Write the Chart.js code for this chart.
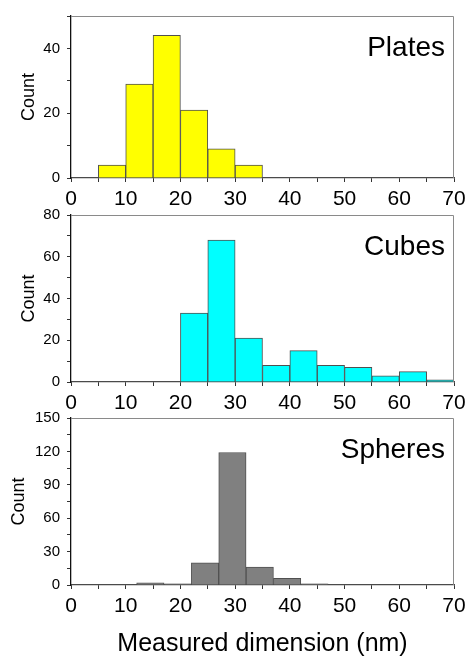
<!DOCTYPE html>
<html>
<head>
<meta charset="utf-8">
<script src="https://cdn.jsdelivr.net/npm/chart.js@4.4.1/dist/chart.umd.min.js"></script>
<style>
    html, body { margin: 0; padding: 0; background: #fff; }
    #wrap { position: relative; width: 472px; height: 657px; background: #fff; }
    #wrap canvas { position: absolute; left: 0; top: 0; }
</style>
</head>
<body>
<div id="wrap">
    <canvas id="plates" width="472" height="657"></canvas>
    <canvas id="cubes" width="472" height="657"></canvas>
    <canvas id="spheres" width="472" height="657"></canvas>
</div>
<script>
// histogram data, bins 5 nm wide
const binWidth = 5;
const xTicks = [0, 10, 20, 30, 40, 50, 60, 70];

const platesBinStart = [5, 10, 15, 20, 25, 30];
const platesCount = [4, 29, 44, 21, 9, 4];
const platesYTicks = [0, 20, 40];
const platesYMax = 50;

const cubesBinStart = [20, 25, 30, 35, 40, 45, 50, 55, 60, 65];
const cubesCount = [33, 68, 21, 8, 15, 8, 7, 3, 5, 1];
const cubesYTicks = [0, 20, 40, 60, 80];
const cubesYMax = 80;

const spheresBinStart = [12, 17, 22, 27, 32, 37, 42];
const spheresCount = [2, 1, 20, 119, 16, 6, 1];
const spheresYTicks = [0, 30, 60, 90, 120, 150];
const spheresYMax = 150;

const FONT = "'Liberation Sans', Arial, sans-serif";
Chart.defaults.font.family = FONT;
Chart.defaults.color = '#000';

// gray box on top/right + the panel name in the corner
const framePlugin = {
    id: 'frame',
    afterDatasetsDraw(chart, args, opts) {
        const { ctx, chartArea: a } = chart;
        ctx.save();
        ctx.strokeStyle = '#8a8a8a';
        ctx.lineWidth = 1;
        ctx.beginPath();
        ctx.moveTo(a.left, a.top + 0.5);
        ctx.lineTo(a.right - 0.5, a.top + 0.5);
        ctx.lineTo(a.right - 0.5, a.bottom);
        ctx.stroke();

        ctx.fillStyle = '#000';
        ctx.font = opts.size + 'px ' + FONT;
        ctx.textAlign = 'right';
        ctx.textBaseline = 'alphabetic';
        ctx.fillText(opts.text, a.right - 9, a.top + 40);
        ctx.restore();
    }
};

function makePanel(id, cfg) {
    const data = cfg.counts.map((c, i) => ({ x: cfg.bins[i] + binWidth / 2, y: c }));

    return new Chart(document.getElementById(id), {
        type: 'bar',
        data: {
            datasets: [{
                data: data,
                backgroundColor: cfg.color,
                borderColor: '#505050',
                borderWidth: 1,
                barPercentage: 1,
                categoryPercentage: 1
            }]
        },
        plugins: [framePlugin],
        options: {
            responsive: false,
            animation: false,
            events: [],
            layout: {
                padding: { left: 0, right: 18, top: cfg.top, bottom: cfg.padBottom }
            },
            plugins: {
                legend: { display: false },
                tooltip: { enabled: false },
                frame: { text: cfg.name, size: 28 }
            },
            scales: {
                x: {
                    type: 'linear',
                    min: 0,
                    max: 70,
                    offset: false,
                    border: { color: '#4a4a4a', width: 1.2 },
                    grid: { drawOnChartArea: false, offset: false, tickLength: 4, tickColor: '#333' },
                    ticks: {
                        stepSize: binWidth,
                        padding: 5,
                        maxRotation: 0,
                        autoSkip: false,
                        font: { size: 21 },
                        callback: v => xTicks.includes(v) ? v : ''
                    },
                    title: {
                        display: !!cfg.xTitle,
                        text: cfg.xTitle || '',
                        font: { size: 25, lineHeight: 1 },
                        padding: { top: 0, bottom: 0 }
                    },
                    afterFit: s => { s.height = cfg.xHeight; }
                },
                y: {
                    min: 0,
                    max: cfg.yMax,
                    border: { color: '#111', width: 1.3 },
                    grid: { drawOnChartArea: false, tickLength: 4, tickColor: '#333' },
                    ticks: {
                        stepSize: (cfg.yTicks[1] - cfg.yTicks[0]) / 2,
                        padding: 7,
                        autoSkip: false,
                        font: { size: 15 },
                        callback: v => cfg.yTicks.includes(v) ? v : ''
                    },
                    title: {
                        display: true,
                        text: 'Count',
                        font: { size: 18, lineHeight: 1 },
                        padding: { top: cfg.titlePad, bottom: 0 }
                    },
                    afterFit: s => { s.width = 71; }
                }
            }
        }
    });
}

makePanel('plates', {
    name: 'Plates', bins: platesBinStart, counts: platesCount, yTicks: platesYTicks, yMax: platesYMax,
    color: '#ffff00', top: 12, padBottom: 657 - 178 - 36, xHeight: 36, titlePad: 20
});
makePanel('cubes', {
    name: 'Cubes', bins: cubesBinStart, counts: cubesCount, yTicks: cubesYTicks, yMax: cubesYMax,
    color: '#00ffff', top: 215, padBottom: 657 - 382 - 36, xHeight: 36, titlePad: 20
});
makePanel('spheres', {
    name: 'Spheres', bins: spheresBinStart, counts: spheresCount, yTicks: spheresYTicks, yMax: spheresYMax,
    color: '#808080', top: 418, padBottom: 0, xHeight: 657 - 585, titlePad: 10,
    xTitle: 'Measured dimension (nm)'
});
</script>
</body>
</html>
